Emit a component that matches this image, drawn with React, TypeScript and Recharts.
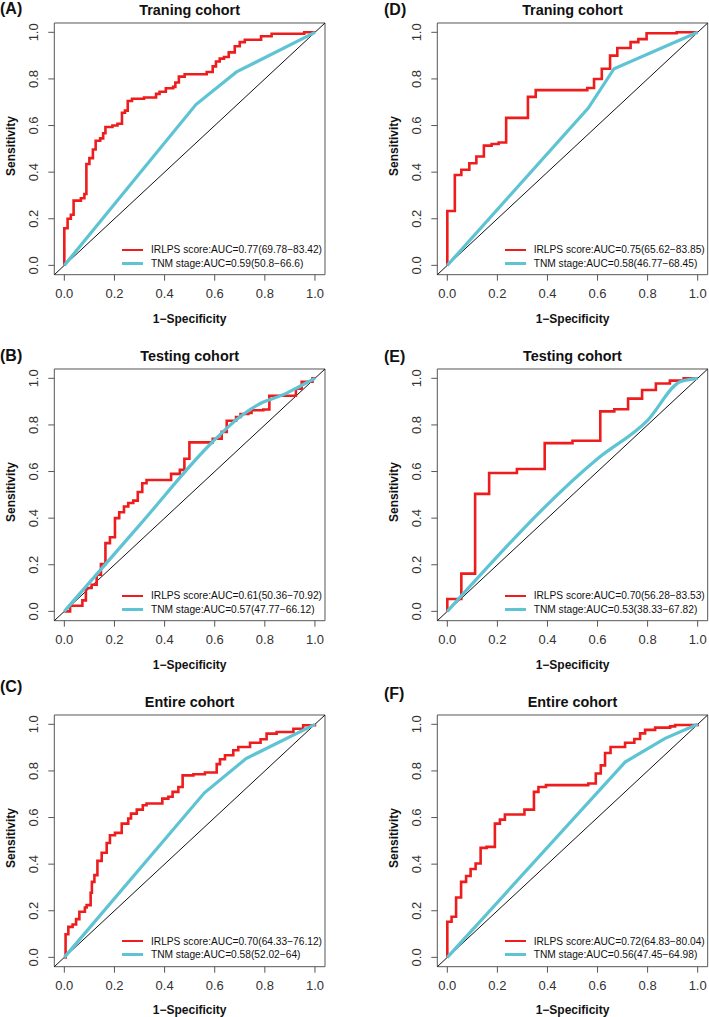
import React from 'react'
import { LineChart, Line, XAxis, YAxis, ReferenceArea, ReferenceLine } from 'recharts'

type Pt = [number, number]

// axis ticks shared by every panel
const axisTicks = [0, 0.2, 0.4, 0.6, 0.8, 1.0]

const panelLetters = ['A', 'B', 'C', 'D', 'E', 'F']
const cohortTitles = [
  'Traning cohort', 'Testing cohort', 'Entire cohort',
  'Traning cohort', 'Testing cohort', 'Entire cohort',
]
const irlpsNames = [
  'IRLPS score:AUC=0.77(69.78−83.42)',
  'IRLPS score:AUC=0.61(50.36−70.92)',
  'IRLPS score:AUC=0.70(64.33−76.12)',
  'IRLPS score:AUC=0.75(65.62−83.85)',
  'IRLPS score:AUC=0.70(56.28−83.53)',
  'IRLPS score:AUC=0.72(64.83−80.04)',
]
const tnmNames = [
  'TNM stage:AUC=0.59(50.8−66.6)',
  'TNM stage:AUC=0.57(47.77−66.12)',
  'TNM stage:AUC=0.58(52.02−64)',
  'TNM stage:AUC=0.58(46.77−68.45)',
  'TNM stage:AUC=0.53(38.33−67.82)',
  'TNM stage:AUC=0.56(47.45−64.98)',
]

// IRLPS curves: [1-specificity, sensitivity] at each step
const irlpsA: Pt[] = [
  [0, 0], [0, 0.159], [0.013, 0.2], [0.026, 0.217], [0.037, 0.278], [0.066, 0.288],
  [0.08, 0.306], [0.088, 0.435], [0.1, 0.46], [0.114, 0.497], [0.125, 0.535], [0.143, 0.545],
  [0.155, 0.567], [0.164, 0.594], [0.192, 0.6], [0.212, 0.608], [0.23, 0.655], [0.242, 0.664],
  [0.253, 0.705], [0.27, 0.715], [0.318, 0.72], [0.366, 0.736], [0.38, 0.745], [0.405, 0.76],
  [0.434, 0.766], [0.443, 0.785], [0.457, 0.81], [0.48, 0.82], [0.568, 0.83], [0.592, 0.854],
  [0.605, 0.875], [0.62, 0.887], [0.637, 0.894], [0.656, 0.914], [0.68, 0.94], [0.7, 0.958],
  [0.72, 0.968], [0.785, 0.983], [0.827, 0.994], [0.957, 1.0], [1, 1],
]
const irlpsB: Pt[] = [
  [0, 0], [0.023, 0.024], [0.072, 0.047], [0.086, 0.1], [0.109, 0.114], [0.129, 0.157],
  [0.146, 0.203], [0.164, 0.293], [0.182, 0.318], [0.202, 0.4], [0.219, 0.425], [0.238, 0.45],
  [0.255, 0.465], [0.275, 0.475], [0.293, 0.512], [0.311, 0.55], [0.328, 0.564], [0.426, 0.59],
  [0.461, 0.607], [0.479, 0.655], [0.499, 0.725], [0.592, 0.741], [0.628, 0.77], [0.648, 0.818],
  [0.685, 0.834], [0.703, 0.847], [0.734, 0.851], [0.747, 0.863], [0.794, 0.866], [0.818, 0.925],
  [0.924, 0.955], [0.947, 0.985], [0.99, 1.0], [1, 1],
]
const irlpsC: Pt[] = [
  [0, 0], [0.005, 0.099], [0.016, 0.131], [0.033, 0.141], [0.047, 0.164], [0.06, 0.196],
  [0.082, 0.214], [0.089, 0.224], [0.105, 0.277], [0.11, 0.324], [0.12, 0.353], [0.132, 0.414],
  [0.149, 0.449], [0.169, 0.491], [0.182, 0.524], [0.202, 0.534], [0.229, 0.574], [0.255, 0.596],
  [0.266, 0.617], [0.289, 0.634], [0.313, 0.653], [0.328, 0.66], [0.391, 0.681], [0.415, 0.689],
  [0.432, 0.71], [0.455, 0.731], [0.472, 0.781], [0.515, 0.786], [0.561, 0.793], [0.608, 0.829],
  [0.621, 0.85], [0.641, 0.867], [0.674, 0.889], [0.694, 0.903], [0.741, 0.921], [0.783, 0.936],
  [0.807, 0.96], [0.847, 0.967], [0.914, 0.981], [0.953, 0.996], [1, 1],
]
const irlpsD: Pt[] = [
  [0, 0], [0, 0.233], [0.03, 0.388], [0.056, 0.41], [0.088, 0.438], [0.116, 0.467],
  [0.146, 0.514], [0.177, 0.521], [0.205, 0.527], [0.235, 0.633], [0.322, 0.723], [0.353, 0.752],
  [0.559, 0.761], [0.586, 0.8], [0.617, 0.844], [0.65, 0.9], [0.679, 0.933], [0.732, 0.958],
  [0.763, 0.971], [0.796, 0.996], [0.916, 1.0], [1, 1],
]
const irlpsE: Pt[] = [
  [0, 0], [0, 0.053], [0.056, 0.162], [0.111, 0.504], [0.167, 0.594], [0.278, 0.611],
  [0.389, 0.722], [0.5, 0.732], [0.611, 0.858], [0.667, 0.867], [0.722, 0.913], [0.778, 0.95],
  [0.833, 0.978], [0.889, 0.99], [0.944, 1.0], [1, 1],
]
const irlpsF: Pt[] = [
  [0, 0], [0, 0.153], [0.017, 0.174], [0.035, 0.257], [0.055, 0.324], [0.075, 0.349],
  [0.093, 0.379], [0.113, 0.403], [0.133, 0.47], [0.157, 0.474], [0.19, 0.574], [0.21, 0.591],
  [0.23, 0.613], [0.308, 0.634], [0.346, 0.71], [0.364, 0.731], [0.394, 0.739], [0.563, 0.746],
  [0.593, 0.789], [0.613, 0.824], [0.63, 0.877], [0.652, 0.903], [0.71, 0.921], [0.747, 0.937],
  [0.77, 0.961], [0.79, 0.976], [0.83, 0.986], [0.89, 0.991], [0.91, 0.997], [1, 1],
]

// TNM stage curves
const tnmA: Pt[] = [[0, 0], [0.525, 0.69], [0.687, 0.83], [1, 1]]
const tnmB: Pt[] = [[0, 0], [0.3, 0.37], [0.594, 0.73], [0.7, 0.834], [0.78, 0.891], [0.874, 0.93], [0.94, 0.966], [1, 1]]
const tnmC: Pt[] = [[0, 0], [0.559, 0.706], [0.725, 0.853], [1, 1]]
const tnmD: Pt[] = [[0, 0], [0.563, 0.675], [0.666, 0.844], [1, 1]]
const tnmE: Pt[] = [[0, 0], [0.6, 0.655], [0.8, 0.82], [0.93, 0.985], [1, 1]]
const tnmF: Pt[] = [[0, 0], [0.71, 0.838], [0.87, 0.94], [1, 1]]

const irlpsCurves = [irlpsA, irlpsB, irlpsC, irlpsD, irlpsE, irlpsF]
const tnmCurves = [tnmA, tnmB, tnmC, tnmD, tnmE, tnmF]
const smoothTnm = [false, true, false, false, true, false]

const RED = '#ee1c1c'
const CYAN = '#5ec4d4'
const FONT = '"Liberation Sans", Arial, Helvetica, sans-serif'

// layout
const COLS = [
  { chartLeft: 0, plotLeft: 54.3, plotW: 270.7, chartW: 340, letterX: 0 },
  { chartLeft: 383, plotLeft: 437.3, plotW: 270.4, chartW: 326, letterX: 384 },
]
const ROW_TOP = [23.4, 369.4, 714.8]
const PLOT_H = 251.7
const LETTER_Y = [[8.5, 355.5, 687], [10, 356.5, 694]]
const DOMAIN: [number, number] = [-0.04, 1.04]

const toRows = (pts: Pt[]) => pts.map(([x, y]) => ({ x, y }))

const YTick = (props: any) => {
  const { x, y, payload } = props
  return (
    <text
      x={x}
      y={y}
      transform={`rotate(-90 ${x} ${y})`}
      textAnchor="middle"
      fontSize={13}
      fill="#333"
    >
      {Number(payload.value).toFixed(1)}
    </text>
  )
}

function Panel({ idx }: { idx: number }) {
  const col = Math.floor(idx / 3)
  const row = idx % 3
  const g = COLS[col]
  const boxTop = ROW_TOP[row]
  const boxBottom = boxTop + PLOT_H
  const topM = 20
  const yW = g.plotLeft - g.chartLeft
  const rightM = g.chartW - yW - g.plotW
  const plotCx = g.plotLeft + g.plotW / 2
  const plotRight = g.plotLeft + g.plotW

  return (
    <>
      <div style={{ position: 'absolute', left: g.chartLeft, top: boxTop - topM }}>
        <LineChart
          width={g.chartW}
          height={topM + PLOT_H + 60}
          margin={{ top: topM, right: rightM, bottom: 0, left: 0 }}
        >
          <XAxis
            type="number"
            dataKey="x"
            domain={DOMAIN}
            ticks={axisTicks}
            interval={0}
            allowDataOverflow
            tickFormatter={(v: number) => v.toFixed(1)}
            axisLine={false}
            tickLine={{ stroke: '#555' }}
            tickSize={6}
            tickMargin={8}
            height={60}
            tick={{ fontSize: 13, fill: '#333' }}
          />
          <YAxis
            type="number"
            dataKey="y"
            domain={DOMAIN}
            ticks={axisTicks}
            interval={0}
            allowDataOverflow
            axisLine={false}
            tickLine={{ stroke: '#555' }}
            tickSize={6}
            tickMargin={10.5}
            width={yW}
            tick={YTick}
          />
          <ReferenceArea
            x1={DOMAIN[0]}
            x2={DOMAIN[1]}
            y1={DOMAIN[0]}
            y2={DOMAIN[1]}
            fill="none"
            fillOpacity={0}
            stroke="#555"
            strokeWidth={1}
            ifOverflow="visible"
          />
          <ReferenceLine
            segment={[{ x: DOMAIN[0], y: DOMAIN[0] }, { x: DOMAIN[1], y: DOMAIN[1] }]}
            stroke="#111"
            strokeWidth={1}
            ifOverflow="visible"
          />
          <Line
            data={toRows(irlpsCurves[idx])}
            dataKey="y"
            name={irlpsNames[idx]}
            type="stepAfter"
            stroke={RED}
            strokeWidth={2.6}
            dot={false}
            activeDot={false}
            isAnimationActive={false}
          />
          <Line
            data={toRows(tnmCurves[idx])}
            dataKey="y"
            name={tnmNames[idx]}
            type={smoothTnm[idx] ? 'monotoneX' : 'linear'}
            stroke={CYAN}
            strokeWidth={3.2}
            dot={false}
            activeDot={false}
            isAnimationActive={false}
          />
        </LineChart>
      </div>

      {/* panel letter */}
      <div
        style={{
          position: 'absolute', left: g.letterX, top: LETTER_Y[col][row] - 8,
          fontSize: 16, lineHeight: '16px', fontWeight: 700, color: '#111',
        }}
      >
        ({panelLetters[idx]})
      </div>

      {/* title */}
      <div
        style={{
          position: 'absolute', left: g.plotLeft, width: g.plotW, top: boxTop - 13 - 7.2,
          textAlign: 'center', fontSize: 14.4, lineHeight: '14.4px', fontWeight: 700, color: '#111',
        }}
      >
        {cohortTitles[idx]}
      </div>

      {/* y label */}
      <div
        style={{
          position: 'absolute', left: g.plotLeft - 43.3, top: boxTop + PLOT_H / 2 - 3,
          transform: 'translate(-50%, -50%) rotate(-90deg)', whiteSpace: 'nowrap',
          fontSize: 12, lineHeight: '12px', fontWeight: 700, color: '#111',
        }}
      >
        Sensitivity
      </div>

      {/* x label */}
      <div
        style={{
          position: 'absolute', left: plotCx, top: boxBottom + 43.5,
          transform: 'translate(-50%, -50%)', whiteSpace: 'nowrap',
          fontSize: 12, lineHeight: '12px', fontWeight: 700, color: '#111',
        }}
      >
        1−Specificity
      </div>

      {/* legend */}
      <div
        style={{
          position: 'absolute', right: 709 - (plotRight - 3), top: boxBottom - 25 - 6.65,
          fontSize: 10.2, color: '#111',
        }}
      >
        {[
          { name: irlpsNames[idx], color: RED, w: 2.6 },
          { name: tnmNames[idx], color: CYAN, w: 3.2 },
        ].map((it) => (
          <div key={it.name} style={{ display: 'flex', alignItems: 'center', height: 13.3 }}>
            <div style={{ width: 21, height: 0, borderTop: `${it.w}px solid ${it.color}`, marginRight: 7.7 }} />
            <span style={{ whiteSpace: 'nowrap', lineHeight: '13.3px' }}>{it.name}</span>
          </div>
        ))}
      </div>
    </>
  )
}

export default function App() {
  return (
    <div
      style={{
        position: 'absolute', left: 0, top: 0, width: 709, height: 1017,
        background: '#fff', fontFamily: FONT, overflow: 'hidden',
      }}
    >
      {panelLetters.map((_, i) => (
        <Panel key={i} idx={i} />
      ))}
    </div>
  )
}
